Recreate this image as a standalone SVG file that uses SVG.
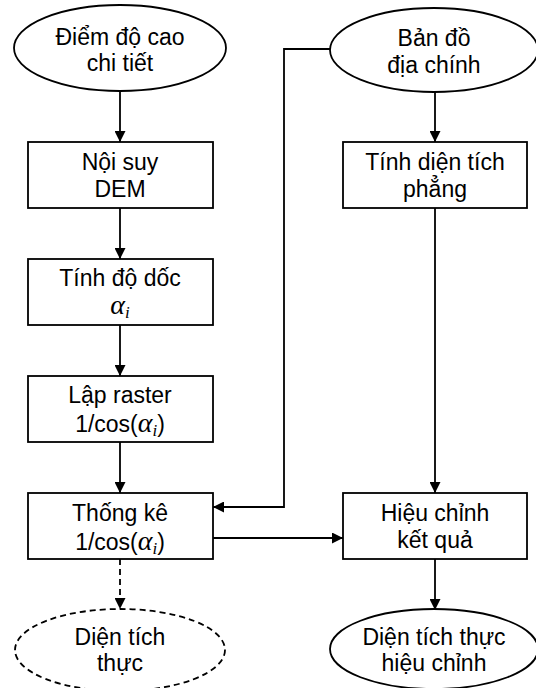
<svg xmlns="http://www.w3.org/2000/svg" width="536" height="688" viewBox="0 0 536 688">
<style>
.n{fill:#fff;stroke:#000;stroke-width:1.8}
.d{stroke-dasharray:6 4}
.t{font-family:"Liberation Sans",Arial,sans-serif;font-size:23px;fill:#000;text-anchor:middle}
.m{font-family:"Liberation Serif","Times New Roman",serif;font-style:italic}
.c{fill:none;stroke:#000;stroke-width:1.8}
</style>
<defs>
<marker id="ah" markerUnits="userSpaceOnUse" markerWidth="11" markerHeight="11" refX="11" refY="5.5" orient="auto">
<path d="M0,0 L11,5.5 L0,11 z" fill="#000"/>
</marker>
</defs>
<rect width="536" height="688" fill="#fff"/>
<g id="connectors">
<path class="c" d="M120,91 V142" marker-end="url(#ah)"/>
<path class="c" d="M120,208 V259" marker-end="url(#ah)"/>
<path class="c" d="M120,325 V376" marker-end="url(#ah)"/>
<path class="c" d="M120,442 V493" marker-end="url(#ah)"/>
<path class="c d" d="M120,559 V609" marker-end="url(#ah)"/>
<path class="c" d="M435,92 V142" marker-end="url(#ah)"/>
<path class="c" d="M435,208 V493" marker-end="url(#ah)"/>
<path class="c" d="M435,559 V610" marker-end="url(#ah)"/>
<path class="c" d="M330,49 H284 V507 H213" marker-end="url(#ah)"/>
<path class="c" d="M213,538 H343" marker-end="url(#ah)"/>
</g>
<g id="diem-do-cao">
<ellipse class="n" cx="120" cy="48" rx="106" ry="43"/>
<text class="t" x="120" y="45">Điểm độ cao</text>
<text class="t" x="120" y="71">chi tiết</text>
</g>
<g id="ban-do">
<ellipse class="n" cx="434" cy="50" rx="104" ry="42"/>
<text class="t" x="434" y="46">Bản đồ</text>
<text class="t" x="434" y="73">địa chính</text>
</g>
<g id="noi-suy">
<rect class="n" x="28" y="142" width="185" height="66"/>
<text class="t" x="120" y="170">Nội suy</text>
<text class="t" x="120" y="197">DEM</text>
</g>
<g id="tinh-dien-tich">
<rect class="n" x="343" y="142" width="184" height="66"/>
<text class="t" x="435" y="170">Tính diện tích</text>
<text class="t" x="435" y="197">phẳng</text>
</g>
<g id="tinh-do-doc">
<rect class="n" x="28" y="259" width="185" height="66"/>
<text class="t" x="120" y="286">Tính độ dốc</text>
<text class="t" x="120" y="314"><tspan class="m" font-size="28">α</tspan><tspan class="m" font-size="17" dy="4">i</tspan></text>
</g>
<g id="lap-raster">
<rect class="n" x="28" y="376" width="185" height="66"/>
<text class="t" x="120" y="403">Lập raster</text>
<text class="t" x="120" y="432">1/cos(<tspan class="m" font-size="28">α</tspan><tspan class="m" font-size="17" dy="4">i</tspan><tspan dy="-4">)</tspan></text>
</g>
<g id="thong-ke">
<rect class="n" x="28" y="493" width="185" height="66"/>
<text class="t" x="120" y="521">Thống kê</text>
<text class="t" x="120" y="550">1/cos(<tspan class="m" font-size="28">α</tspan><tspan class="m" font-size="17" dy="4">i</tspan><tspan dy="-4">)</tspan></text>
</g>
<g id="hieu-chinh">
<rect class="n" x="343" y="493" width="184" height="66"/>
<text class="t" x="435" y="521">Hiệu chỉnh</text>
<text class="t" x="435" y="548">kết quả</text>
</g>
<g id="dien-tich-thuc">
<ellipse class="n d" cx="120" cy="650" rx="105" ry="41"/>
<text class="t" x="120" y="645">Diện tích</text>
<text class="t" x="120" y="671">thực</text>
</g>
<g id="dien-tich-thuc-hieu-chinh">
<ellipse class="n" cx="434" cy="649" rx="104" ry="40"/>
<text class="t" x="434" y="645">Diện tích thực</text>
<text class="t" x="434" y="671">hiệu chỉnh</text>
</g>
</svg>
